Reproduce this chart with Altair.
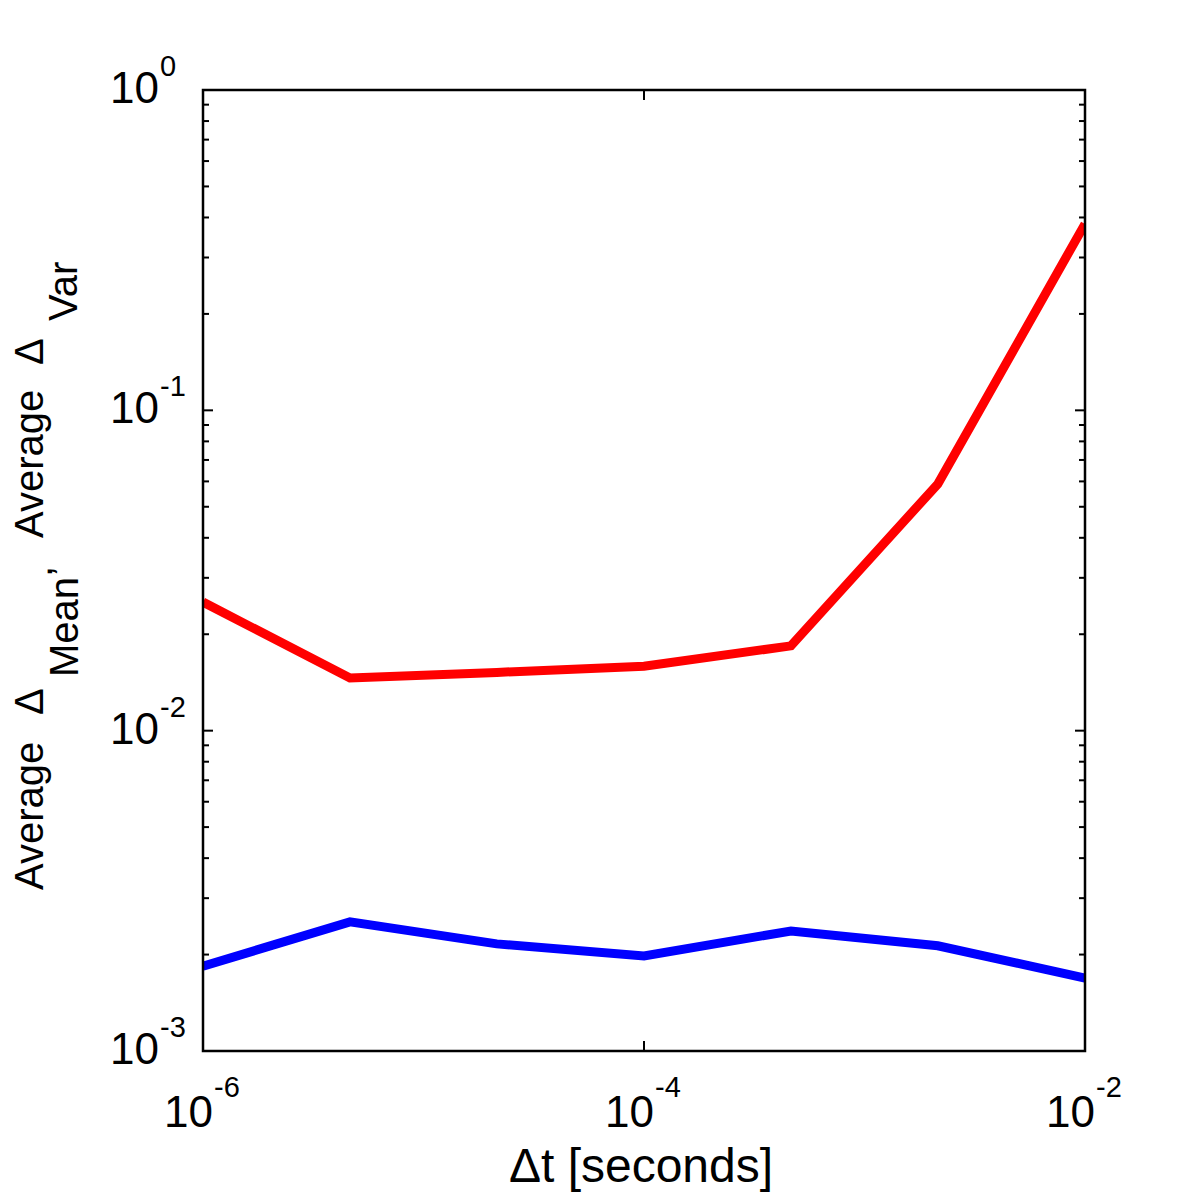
import altair as alt
import pandas as pd

# ---- data ----
dt = [1e-6, 4.64e-6, 2.15e-5, 1e-4, 4.64e-4, 2.15e-3, 1e-2]
red_series = [0.0252, 0.0146, 0.0152, 0.0159, 0.0184, 0.0589, 0.382]
blue_series = [0.00184, 0.00253, 0.00216, 0.00198, 0.00237, 0.00213, 0.00169]

x_tick_values = [1e-6, 1e-4, 1e-2]
x_tick_exps = ["-6", "-4", "-2"]
y_tick_values = [1e-3, 1e-2, 1e-1, 1.0]
y_tick_exps = ["-3", "-2", "-1", "0"]
y_minor_values = [m * d for d in (1e-3, 1e-2, 1e-1) for m in range(2, 10)]

FONT = "Liberation Sans"
W, H = 882, 961

xs = alt.Scale(type="log", domain=[1e-6, 1e-2], nice=False)
ys = alt.Scale(type="log", domain=[1e-3, 1.0], nice=False)

lines_df = pd.DataFrame({
    "dt": dt * 2,
    "value": red_series + blue_series,
    "series": ["red"] * len(dt) + ["blue"] * len(dt),
})
xt = pd.DataFrame({"v": x_tick_values, "exp": x_tick_exps})
yt = pd.DataFrame({"v": y_tick_values, "exp": y_tick_exps})
ym = pd.DataFrame({"v": y_minor_values})

lines = alt.Chart(lines_df).mark_line(strokeWidth=9, clip=True).encode(
    x=alt.X("dt:Q", scale=xs, axis=None),
    y=alt.Y("value:Q", scale=ys, axis=None),
    color=alt.Color("series:N", scale=alt.Scale(domain=["red", "blue"], range=["#ff0000", "#0000ff"]), legend=None),
)

tick_style = dict(color="black", strokeWidth=2)
y_major_l = alt.Chart(yt).mark_rule(**tick_style).encode(
    y=alt.Y("v:Q", scale=ys, axis=None), x=alt.value(0), x2=alt.value(10))
y_major_r = alt.Chart(yt).mark_rule(**tick_style).encode(
    y=alt.Y("v:Q", scale=ys, axis=None), x=alt.value(W), x2=alt.value(W - 10))
y_minor_l = alt.Chart(ym).mark_rule(**tick_style).encode(
    y=alt.Y("v:Q", scale=ys, axis=None), x=alt.value(0), x2=alt.value(6))
y_minor_r = alt.Chart(ym).mark_rule(**tick_style).encode(
    y=alt.Y("v:Q", scale=ys, axis=None), x=alt.value(W), x2=alt.value(W - 6))
x_major_b = alt.Chart(xt).mark_rule(**tick_style).encode(
    x=alt.X("v:Q", scale=xs, axis=None), y=alt.value(H), y2=alt.value(H - 10))
x_major_t = alt.Chart(xt).mark_rule(**tick_style).encode(
    x=alt.X("v:Q", scale=xs, axis=None), y=alt.value(0), y2=alt.value(10))

# frame
frame = alt.Chart(xt).transform_filter("datum.v == 1e-4").mark_rect(
    fill=None, stroke="black", strokeWidth=2.5).encode(
    x=alt.value(0), x2=alt.value(W), y=alt.value(0), y2=alt.value(H))

# tick labels 10^n
x_lab_base = alt.Chart(xt).mark_text(text="10", font=FONT, fontSize=44, align="right",
                                     baseline="alphabetic", dx=10).encode(
    x=alt.X("v:Q", scale=xs, axis=None), y=alt.value(1037))
x_lab_exp = alt.Chart(xt).mark_text(font=FONT, fontSize=29, align="left",
                                    baseline="alphabetic", dx=11).encode(
    x=alt.X("v:Q", scale=xs, axis=None), y=alt.value(1007), text="exp:N")
y_lab_base = alt.Chart(yt).mark_text(text="10", font=FONT, fontSize=44, align="right",
                                     baseline="middle").encode(
    y=alt.Y("v:Q", scale=ys, axis=None), x=alt.value(-44))
y_lab_exp = alt.Chart(yt).mark_text(font=FONT, fontSize=29, align="left",
                                    baseline="alphabetic", dy=-14).encode(
    y=alt.Y("v:Q", scale=ys, axis=None), x=alt.value(-43), text="exp:N")

# axis titles
x_title = alt.Chart(xt).transform_filter("datum.v == 1e-4").mark_text(
    text="Δt [seconds]", font=FONT, fontSize=48, align="center", baseline="alphabetic").encode(
    x=alt.value(W / 2 - 3), y=alt.value(1092))

def ytitle_piece(txt, ypos, xpos, size=40):
    return alt.Chart(xt).transform_filter("datum.v == 1e-4").mark_text(
        text=txt, font=FONT, fontSize=size, align="left", baseline="alphabetic", angle=270).encode(
        x=alt.value(xpos), y=alt.value(ypos))

y_title = [
    ytitle_piece("Average", 800, -160),
    ytitle_piece("Δ", 625, -160),
    ytitle_piece("Mean", 587, -125),
    ytitle_piece(",", 487, -151),
    ytitle_piece("Average", 448, -160),
    ytitle_piece("Δ", 275, -160),
    ytitle_piece("Var", 231, -126),
]

chart = alt.layer(
    lines, y_minor_l, y_minor_r, y_major_l, y_major_r, x_major_b, x_major_t, frame,
    x_lab_base, x_lab_exp, y_lab_base, y_lab_exp, x_title, *y_title,
).properties(
    width=W, height=H,
    background="white",
    autosize=alt.AutoSizeParams(type="none"),
    padding={"left": 195, "top": 82, "right": 107, "bottom": 141},
).configure_view(stroke=None)

chart.save("out.html", embed_options={"renderer": "svg", "actions": False})
